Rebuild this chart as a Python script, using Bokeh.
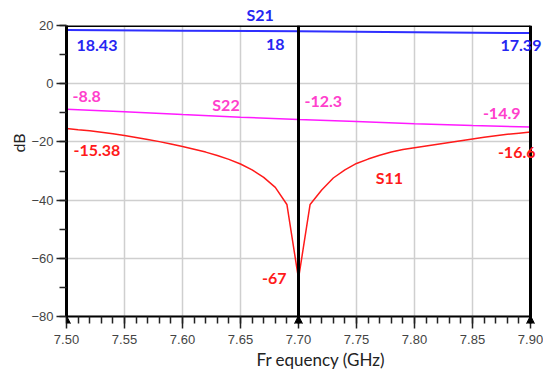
from bokeh.plotting import figure
from bokeh.models import (Range1d, SingleIntervalTicker, NumeralTickFormatter, Label,
                          Span, Arrow, NormalHead, Title, BoxAnnotation)
from bokeh.embed import file_html
from bokeh.resources import INLINE

# ---------------- data ----------------
freq_s11 = [7.50, 7.51, 7.52, 7.53, 7.54, 7.55, 7.56, 7.57, 7.58, 7.59, 7.60,
            7.61, 7.62, 7.63, 7.64, 7.65, 7.66, 7.67, 7.68, 7.69, 7.70,
            7.71, 7.72, 7.73, 7.74, 7.75, 7.76, 7.77, 7.78, 7.79, 7.80,
            7.81, 7.82, 7.83, 7.84, 7.85, 7.86, 7.87, 7.88, 7.89, 7.90]
s11 = [-15.38, -15.8, -16.2, -16.7, -17.2, -17.8, -18.5, -19.2, -19.9, -20.7, -21.6,
       -22.5, -23.5, -24.7, -26.0, -27.6, -29.6, -32.2, -35.6, -41.5, -67.0,
       -41.5, -36.5, -32.4, -29.6, -27.4, -25.9, -24.6, -23.5, -22.6, -22.0,
       -21.4, -20.8, -20.2, -19.6, -19.0, -18.4, -17.9, -17.4, -17.0, -16.6]

freq_s21 = [7.50, 7.60, 7.70, 7.80, 7.90]
s21 = [18.43, 18.23, 18.0, 17.72, 17.39]

freq_s22 = [7.50, 7.55, 7.60, 7.65, 7.70, 7.75, 7.80, 7.85, 7.90]
s22 = [-8.8, -9.6, -10.6, -11.5, -12.3, -13.0, -13.8, -14.4, -14.9]

marker_freqs = [7.50, 7.70, 7.90]

# marker value annotations: (freq, value, text)
s21_marks = [(7.50, 18.43, "18.43"), (7.70, 18.0, "18"), (7.90, 17.39, "17.39")]
s22_marks = [(7.50, -8.8, "-8.8"), (7.70, -12.3, "-12.3"), (7.90, -14.9, "-14.9")]
s11_marks = [(7.50, -15.38, "-15.38"), (7.70, -67.0, "-67"), (7.90, -16.6, "-16.6")]

X_MIN, X_MAX = 7.50, 7.90
Y_MIN, Y_MAX = -80, 20

BLUE_LINE = "#2f2fff"
BLUE_TXT = "#2626f2"
MAG_LINE = "#ff1aff"
MAG_TXT = "#ff40cc"
RED_LINE = "#ff1a1a"
RED_TXT = "#ff1a1a"
AX_TXT = "#222222"

# frame: x 7.50 at px 66 (464 px per 0.4 GHz), extended to the right canvas edge;
# y: 2.92 px per dB, extended 7 px below -80 so marker triangles show
px_per_ghz = 464 / 0.4
px_per_db = 2.92
x_end = X_MIN + (543 - 66) / px_per_ghz
y_start = Y_MIN - 7 / px_per_db

p = figure(width=543, height=373, output_backend="svg", toolbar_location=None,
           x_range=Range1d(X_MIN, x_end), y_range=Range1d(y_start, Y_MAX),
           min_border_left=66, min_border_right=0, min_border_top=24, min_border_bottom=50)

p.outline_line_color = None
p.background_fill_color = "white"
p.border_fill_color = "white"

# axes
p.xaxis.ticker = SingleIntervalTicker(interval=0.05, num_minor_ticks=5)
p.yaxis.ticker = SingleIntervalTicker(interval=20, num_minor_ticks=2)
p.xaxis.formatter = NumeralTickFormatter(format="0.00")
p.xaxis.bounds = (X_MIN, X_MAX)
p.yaxis.bounds = (Y_MIN, Y_MAX)
for ax in (p.xaxis, p.yaxis):
    ax.major_label_text_font = "Liberation Sans"
    ax.major_label_text_font_size = "13px"
    ax.major_label_text_color = "#444444"
    ax.axis_line_color = "black"
    ax.major_tick_line_color = "#222222"
    ax.minor_tick_line_color = "#222222"
    ax.major_tick_line_width = 1.5
    ax.minor_tick_line_width = 1.5
p.xaxis.axis_line_alpha = 0
p.xaxis.major_tick_in = 7
p.xaxis.major_tick_out = 5
p.xaxis.minor_tick_in = 7
p.xaxis.minor_tick_out = 0
p.xaxis.major_label_standoff = 6
p.yaxis.axis_line_width = 3
p.yaxis.major_tick_in = 0
p.yaxis.minor_tick_in = 0
p.yaxis.major_tick_out = 10
p.yaxis.minor_tick_out = 7
p.yaxis.major_label_standoff = 3

p.xgrid.ticker = p.xaxis.ticker
p.ygrid.ticker = p.yaxis.ticker
p.grid.grid_line_color = "#cfcfcf"
p.grid.grid_line_width = 1.5

# white out the grid outside the chart area
p.add_layout(BoxAnnotation(top=Y_MIN, fill_color="white", fill_alpha=1, line_alpha=0, level="underlay"))
p.add_layout(BoxAnnotation(left=X_MAX, fill_color="white", fill_alpha=1, line_alpha=0, level="underlay"))

# frame top line and x-axis line
p.segment(x0=[X_MIN], y0=[Y_MAX], x1=[X_MAX], y1=[Y_MAX], line_color="black", line_width=3)
p.segment(x0=[X_MIN], y0=[Y_MIN], x1=[X_MAX], y1=[Y_MIN], line_color="black", line_width=2)

# marker lines
for xv in marker_freqs[1:]:
    p.add_layout(Span(location=xv, dimension="height", line_color="black", line_width=3))

# traces
p.line(freq_s21, s21, line_color=BLUE_LINE, line_width=2)
p.line(freq_s22, s22, line_color=MAG_LINE, line_width=1.5)
p.line(freq_s11, s11, line_color=RED_LINE, line_width=1.5)

# marker triangles
for xv in marker_freqs:
    p.add_layout(Arrow(end=NormalHead(size=12, fill_color="black", line_color="black", line_width=1),
                       x_start=xv, y_start=Y_MIN - 5, x_end=xv, y_end=Y_MIN + 0.3, line_alpha=0))

def lab(x, y, text, color, xo=0, yo=0, align="left", size="16px"):
    p.add_layout(Label(x=x, y=y, text=text, x_offset=xo, y_offset=yo,
                       text_align=align, text_baseline="middle",
                       text_font="Lato", text_font_style="bold",
                       text_font_size=size, text_color=color))

# S21 value labels
lab(*s21_marks[0], BLUE_TXT, xo=10, yo=-15)
lab(*s21_marks[1], BLUE_TXT, xo=-14, yo=-13, align="right")
lab(*s21_marks[2], BLUE_TXT, xo=-30, yo=-12)
# S22 value labels
lab(*s22_marks[0], MAG_TXT, xo=6, yo=13)
lab(*s22_marks[1], MAG_TXT, xo=6, yo=18)
lab(*s22_marks[2], MAG_TXT, xo=-10, yo=14, align="right")
# S11 value labels
lab(*s11_marks[0], RED_TXT, xo=7, yo=-22)
lab(*s11_marks[1], RED_TXT, xo=-12, yo=0, align="right")
lab(*s11_marks[2], RED_TXT, xo=5, yo=-20, align="right")

# series names inside the chart
p.add_layout(Label(x=7.6375, y=-7.3, text="S22", text_align="center", text_baseline="middle",
                   text_font="Lato", text_font_style="bold", text_font_size="16px", text_color=MAG_TXT))
p.add_layout(Label(x=7.7784, y=-32.4, text="S11", text_align="center", text_baseline="middle",
                   text_font="Lato", text_font_style="bold", text_font_size="16px", text_color=RED_TXT))

# texts outside the frame as titles
p.add_layout(Title(text="S21", align="left", offset=180, standoff=4,
                   text_font="Lato", text_font_style="bold", text_font_size="16px",
                   text_color=BLUE_TXT), "above")
p.add_layout(Title(text="Fr equency (GHz)", align="left", offset=190, standoff=0,
                   text_font="Lato", text_font_style="normal", text_font_size="17px",
                   text_color=AX_TXT), "below")
p.add_layout(Title(text="dB", align="left", offset=171, standoff=2,
                   text_font="Lato", text_font_style="normal", text_font_size="16px",
                   text_color=AX_TXT), "left")

open("out.html", "w").write(file_html(p, INLINE))
